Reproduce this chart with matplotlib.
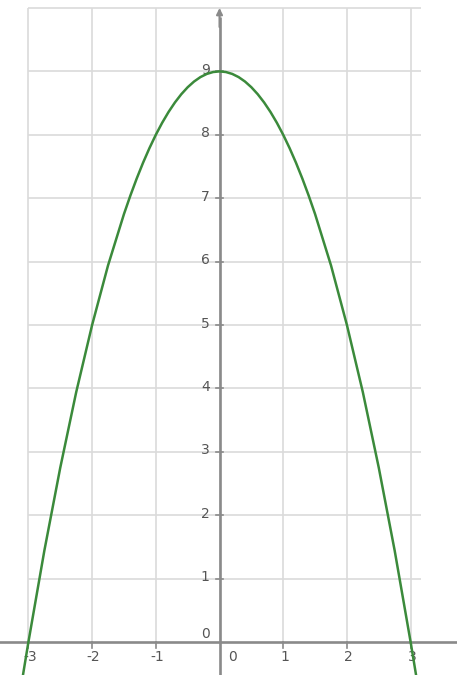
import matplotlib
matplotlib.use("Agg")
import matplotlib.pyplot as plt

# Points
curve_x = [-3.1, -3.0, -2.75, -2.5, -2.25, -2.0, -1.75, -1.5, -1.4, -1.3, -1.2, -1.1, -1.0,
           -0.9, -0.8, -0.7, -0.6, -0.5, -0.4, -0.3, -0.2, -0.1, 0.0,
           0.1, 0.2, 0.3, 0.4, 0.5, 0.6, 0.7, 0.8, 0.9,
           1.0, 1.1, 1.2, 1.3, 1.4, 1.5, 1.75, 2.0, 2.25, 2.5, 2.75, 3.0, 3.1]
curve_y = [-0.61, 0.0, 1.44, 2.75, 3.94, 5.0, 5.94, 6.75, 7.04, 7.31, 7.56, 7.79, 8.0,
           8.19, 8.36, 8.51, 8.64, 8.75, 8.84, 8.91, 8.96, 8.99, 9.0,
           8.99, 8.96, 8.91, 8.84, 8.75, 8.64, 8.51, 8.36, 8.19,
           8.0, 7.79, 7.56, 7.31, 7.04, 6.75, 5.94, 5.0, 3.94, 2.75, 1.44, 0.0, -0.61]

x_ticks = [-3, -2, -1, 0, 1, 2, 3]
x_labels = ["-3", "-2", "-1", "0", "1", "2", "3"]
y_ticks = [0, 1, 2, 3, 4, 5, 6, 7, 8, 9]
y_labels = ["0", "1", "2", "3", "4", "5", "6", "7", "8", "9"]
grid_x = [-3, -2, -1, 0, 1, 2, 3]
grid_y = [1, 2, 3, 4, 5, 6, 7, 8, 9, 10]

fig = plt.figure(figsize=(4.57, 6.75), dpi=100)
ax = fig.add_axes([0, 0, 1, 1])
ax.set_xlim(-3.446, 3.728)
ax.set_ylim(-0.52, 10.126)
ax.axis("off")

grid_col = "#dadada"
ax.vlines(grid_x, 0, 10, colors=grid_col, linewidth=1.2, zorder=1)
ax.hlines(grid_y, -3, 3.17, colors=grid_col, linewidth=1.2, zorder=1)

axis_col = "#8a8a8a"
ax.axhline(0, color=axis_col, linewidth=1.9, zorder=2)
ax.plot([0, 0], [-0.6, 9.85], color=axis_col, linewidth=1.9, zorder=2, solid_capstyle="butt")
ax.annotate("", xy=(0, 10.0), xytext=(0, 9.7),
            arrowprops=dict(arrowstyle="-|>", color=axis_col, lw=1.5,
                            mutation_scale=9, shrinkA=0, shrinkB=0), zorder=2)

# tick marks
for xt in x_ticks:
    if xt != 0:
        ax.plot([xt, xt], [0, -0.09], color=axis_col, linewidth=1.2, zorder=2)
for yt in y_ticks:
    if yt != 0:
        ax.plot([-0.06, 0.06], [yt, yt], color=axis_col, linewidth=1.2, zorder=2)

lab_col = "#555555"
fs = 10
for xt, lab in zip(x_ticks, x_labels):
    dx = 9 if xt == 0 else 1
    ax.annotate(lab, xy=(xt, 0), xytext=(dx, -11), textcoords="offset points",
                ha="center", va="center", fontsize=fs, color=lab_col, zorder=3)
for yt, lab in zip(y_ticks, y_labels):
    dy = 6 if yt == 0 else 1
    ax.annotate(lab, xy=(0, yt), xytext=(-7, dy), textcoords="offset points",
                ha="right", va="center", fontsize=fs, color=lab_col, zorder=3)

ax.plot(curve_x, curve_y, color="#3b8a3b", linewidth=1.8, zorder=4,
        solid_capstyle="round", solid_joinstyle="round")

fig.savefig("out.png", dpi=100)
